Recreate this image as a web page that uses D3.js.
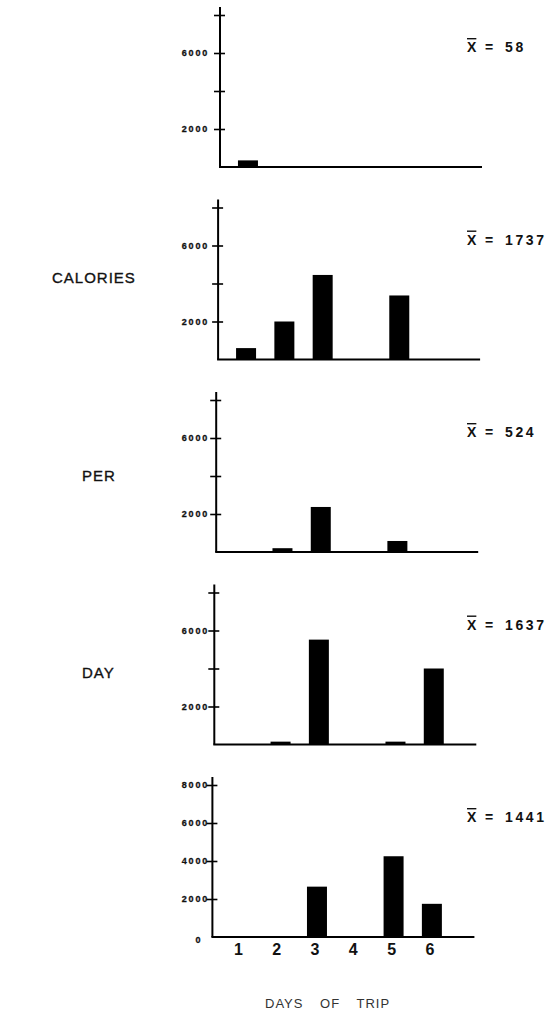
<!DOCTYPE html>
<html lang="en">
<head>
    <meta charset="UTF-8">
    <title>Calories per day of trip</title>
    <style>
        body { margin: 0; background: #fff; }
        #chart { display: block; }
        .ylab { font: bold 9px 'Liberation Sans', Arial, sans-serif; letter-spacing: 1.8px; fill: #111; stroke: #111; stroke-width: 0.3px; }
        .xlab { font: bold 16px 'Liberation Sans', Arial, sans-serif; fill: #111; }
        .mean { font: bold 14px 'Liberation Sans', Arial, sans-serif; fill: #111; }
        .side { font: 15px 'Liberation Sans', Arial, sans-serif; letter-spacing: 1px; fill: #111; stroke: #111; stroke-width: 0.35px; }
        .title { font: 13px 'Liberation Sans', Arial, sans-serif; letter-spacing: 1px; word-spacing: 12px; fill: #333; }
    </style>
</head>
<body>
    <svg id="chart" width="551" height="1016"></svg>
    <script src="https://d3js.org/d3.v7.min.js"></script>
    <script>
        // values, one row per subject
        const days = [1, 2, 3, 4, 5, 6];
        const subjectMeans = [58, 1737, 524, 1637, 1441];
        const calories1 = [348, 0, 0, 0, 0, 0];
        const calories2 = [600, 2000, 4450, 0, 3370, 0];
        const calories3 = [0, 200, 2370, 0, 580, 0];
        const calories4 = [0, 150, 5520, 0, 150, 4000];
        const calories5 = [0, 0, 2650, 0, 4250, 1746];
        const panels = [calories1, calories2, calories3, calories4, calories5];
        const yTicks = [2000, 4000, 6000, 8000];
        const yLabels = [2000, 6000];
        const yLabelsBottom = [0, 2000, 4000, 6000, 8000];
        const sideLabels = ["CALORIES", "PER", "DAY"];
        const xTitle = "DAYS OF TRIP";

        const svg = d3.select("#chart");

        const panelH = 152,
            axisLen = 262;

        const x = d3.scaleLinear().domain([0.27, 7.11]).range([0, axisLen]);
        const y = d3.scaleLinear().domain([0, 8000]).range([panelH, 0]);
        const barW = 20;

        panels.forEach((vals, i) => {
            const top = 15 + i * 192.5,
                axisX = 220 - i * 1.9,
                last = i === panels.length - 1;
            const g = svg.append("g").attr("transform", `translate(${axisX},${top})`);

            // bars
            g.selectAll("rect")
                .data(days.map((d, k) => ({ day: d, v: vals[k] })).filter(d => d.v > 0))
                .enter().append("rect")
                .attr("x", d => x(d.day) - barW / 2)
                .attr("width", barW)
                .attr("y", d => y(d.v))
                .attr("height", d => y(0) - y(d.v))
                .attr("fill", "#000");

            // y axis with cross ticks
            const ax = g.append("g")
                .call(d3.axisLeft(y).tickValues(yTicks).tickSize(6).tickFormat(""));
            ax.select(".domain").remove();
            ax.selectAll(".tick line").attr("stroke", "#000").attr("stroke-width", 1.6);
            ax.selectAll(".tick").append("line")
                .attr("x1", 0).attr("x2", 5)
                .attr("stroke", "#000").attr("stroke-width", 1.6);

            g.append("line")
                .attr("x1", 0).attr("x2", 0)
                .attr("y1", -8).attr("y2", y(0))
                .attr("stroke", "#000").attr("stroke-width", 2);
            g.append("line")
                .attr("x1", -1).attr("x2", axisLen)
                .attr("y1", y(0)).attr("y2", y(0))
                .attr("stroke", "#000").attr("stroke-width", 2);

            // tick labels, right aligned on a common edge
            const labs = last ? yLabelsBottom.filter(v => v > 0) : yLabels;
            g.selectAll(".ylab")
                .data(labs)
                .enter().append("text")
                .attr("class", "ylab")
                .attr("x", 209 - axisX)
                .attr("y", d => y(d))
                .attr("dy", "0.35em")
                .attr("text-anchor", "end")
                .text(d => d);

            if (last) {
                g.append("text")
                    .attr("class", "ylab")
                    .attr("x", 199 - axisX)
                    .attr("y", y(0) + 3)
                    .attr("dy", "0.35em")
                    .attr("text-anchor", "middle")
                    .text(yLabelsBottom[0]);

                const xa = g.append("g")
                    .attr("transform", `translate(0,${y(0)})`)
                    .call(d3.axisBottom(x).tickValues(days).tickSize(0).tickPadding(7)
                        .tickFormat(d3.format("d")));
                xa.select(".domain").remove();
                xa.selectAll("text")
                    .attr("class", "xlab")
                    .attr("dx", -2.5)
                    .attr("font-size", null)
                    .attr("font-family", null);
            }

            // mean label
            const m = svg.append("g").attr("transform", `translate(0,${top + 37})`);
            m.append("text").attr("class", "mean").attr("x", 467)
                .append("tspan").attr("text-decoration", "overline").text("X");
            m.append("text").attr("class", "mean").attr("x", 485).text("=");
            m.append("text").attr("class", "mean").attr("x", 505)
                .attr("letter-spacing", 2.6)
                .text(subjectMeans[i]);
        });

        // left side labels
        sideLabels.forEach((t, k) => {
            svg.append("text")
                .attr("class", "side")
                .attr("x", [52, 82, 82][k])
                .attr("y", 278 + k * 197.5)
                .attr("dy", "0.35em")
                .text(t);
        });

        svg.append("text")
            .attr("class", "title")
            .attr("x", 265)
            .attr("y", 1003)
            .attr("dy", "0.35em")
            .text(xTitle);
    </script>
</body>
</html>
